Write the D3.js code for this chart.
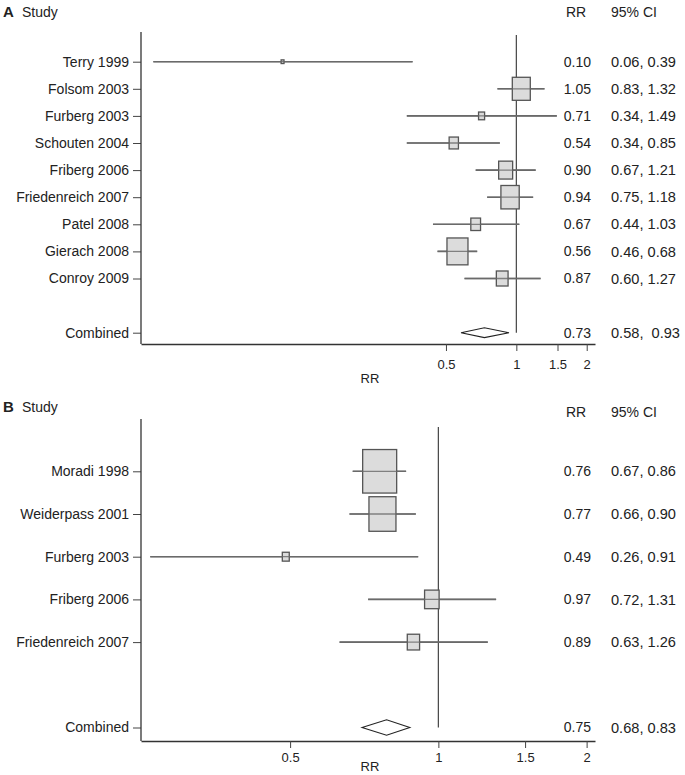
<!DOCTYPE html>
<html><head><meta charset="utf-8">
<script src="https://cdn.jsdelivr.net/npm/d3@7"></script>
<style>
body{margin:0;background:#fff;}
svg text{font-family:"Liberation Sans",Arial,Helvetica,sans-serif;fill:#222;}
</style></head>
<body><svg id="c" width="685" height="775"></svg>
<script>
// ---- Panel A data ----
const studiesA = ["Terry 1999","Folsom 2003","Furberg 2003","Schouten 2004","Friberg 2006","Friedenreich 2007","Patel 2008","Gierach 2008","Conroy 2009"];
const estA = [0.10,1.05,0.71,0.54,0.90,0.94,0.67,0.56,0.87];
const loA  = [0.028,0.83,0.34,0.34,0.67,0.75,0.44,0.46,0.60];
const hiA  = [0.36,1.32,1.49,0.85,1.21,1.18,1.03,0.68,1.27];
const weightA = [0.5,19.5,2.2,5.2,11.8,20.2,5.7,26.6,8.3];
const rrLabelsA = ["0.10","1.05","0.71","0.54","0.90","0.94","0.67","0.56","0.87"];
const ciLabelsA = ["0.06, 0.39","0.83, 1.32","0.34, 1.49","0.34, 0.85","0.67, 1.21","0.75, 1.18","0.44, 1.03","0.46, 0.68","0.60, 1.27"];
const pooledA = [0.73,0.58,0.93];
const pooledLabelsA = ["0.73","0.58,  0.93"];
const domainA = [0.0248,2.17];

// ---- Panel B data ----
const studiesB = ["Moradi 1998","Weiderpass 2001","Furberg 2003","Friberg 2006","Friedenreich 2007"];
const estB = [0.76,0.77,0.49,0.97,0.89];
const loB  = [0.67,0.66,0.26,0.72,0.63];
const hiB  = [0.86,0.90,0.91,1.31,1.26];
const weightB = [50.4,31.8,2.1,9.2,6.6];
const rrLabelsB = ["0.76","0.77","0.49","0.97","0.89"];
const ciLabelsB = ["0.67, 0.86","0.66, 0.90","0.26, 0.91","0.72, 1.31","0.63, 1.26"];
const pooledB = [0.785,0.70,0.875];
const pooledLabelsB = ["0.75","0.68, 0.83"];
const domainB = [0.249,2.08];

const tickVals = [0.5,1,1.5,2];
const tickLabels = ["0.5","1","1.5","2"];

const svg = d3.select("#c");

function panel(o){
  const g = svg.append("g");
  const n = o.studies.length;
  const x = d3.scaleLog().domain(o.domain).range([141,595]);
  const y = d3.scaleLinear().domain([0,n+1]).range([o.y0,o.y0+o.step*(n+1)]);
  const wmax = d3.max(o.weight);
  const s = d3.scaleSqrt().domain([0,wmax]).range([0,o.boxMax]);
  const fs = 14;

  // header
  g.append("text").attr("x",3).attr("y",o.headY).attr("font-size",15).attr("font-weight","bold").text(o.letter);
  g.append("text").attr("x",22).attr("y",o.headY).attr("font-size",fs).text("Study");
  g.append("text").attr("x",566).attr("y",o.headY2).attr("font-size",fs).text("RR");
  g.append("text").attr("x",611).attr("y",o.headY2).attr("font-size",fs).text("95% CI");

  // y axis
  const rowsIdx = d3.range(n).concat([n+1]);
  const labels = o.studies.concat(["Combined"]);
  const ya = g.append("g").attr("transform","translate(141,0)")
    .call(d3.axisLeft(y).tickValues(rowsIdx).tickFormat((d,i)=>labels[i]).tickSize(8).tickPadding(4).tickSizeOuter(0));
  ya.select(".domain").remove();
  ya.selectAll("line").attr("stroke","#444");
  ya.selectAll("text").attr("font-size",fs).attr("font-family","Liberation Sans, Arial, sans-serif").attr("fill","#222");
  g.append("line").attr("x1",141).attr("x2",141).attr("y1",o.axTop).attr("y2",o.axBot).attr("stroke","#333").attr("stroke-width",1.3);

  // x axis
  const xa = g.append("g").attr("transform",`translate(0,${o.axBot})`)
    .call(d3.axisBottom(x).tickValues(tickVals).tickFormat((d,i)=>tickLabels[i]).tickSize(7).tickPadding(o.tickPad).tickSizeOuter(0));
  xa.select(".domain").attr("stroke","#333").attr("stroke-width",1.3);
  xa.selectAll("line").attr("stroke","#444");
  xa.selectAll("text").attr("font-size",13).attr("font-family","Liberation Sans, Arial, sans-serif").attr("fill","#222");
  g.append("text").attr("x",370).attr("y",o.axBot+o.titleOff).attr("text-anchor","middle").attr("font-size",13).text("RR");

  // reference line
  g.append("line").attr("x1",x(1)).attr("x2",x(1)).attr("y1",o.refTop).attr("y2",y(n+1))
    .attr("stroke","#444").attr("stroke-width",1.2);

  // CIs
  const idx = d3.range(n);
  g.selectAll(".ci").data(idx).join("line")
    .attr("x1",i=>x(o.lo[i])).attr("x2",i=>x(o.hi[i])).attr("y1",i=>y(i)).attr("y2",i=>y(i))
    .attr("stroke","#6a6a6a").attr("stroke-width",1.6);
  // boxes
  g.selectAll(".bx").data(idx).join("rect")
    .attr("x",i=>x(o.est[i])-s(o.weight[i])/2)
    .attr("y",i=>y(i)-s(o.weight[i])*1.28/2)
    .attr("width",i=>s(o.weight[i]))
    .attr("height",i=>s(o.weight[i])*1.28)
    .attr("fill","#dcdcdc").attr("stroke","#555").attr("stroke-width",1.3);
  // CI line visible across box
  g.selectAll(".ci2").data(idx).join("line")
    .attr("x1",i=>x(o.lo[i])).attr("x2",i=>x(o.hi[i])).attr("y1",i=>y(i)).attr("y2",i=>y(i))
    .attr("stroke","#6a6a6a").attr("stroke-width",1.3).attr("opacity",0.8);

  // diamond
  const yc = y(n+1), hh = o.step*0.18;
  g.append("path").attr("d",`M${x(o.pooled[1])},${yc}L${x(o.pooled[0])},${yc-hh}L${x(o.pooled[2])},${yc}L${x(o.pooled[0])},${yc+hh}Z`)
    .attr("fill","#fff").attr("stroke","#222").attr("stroke-width",1.1);

  // value columns
  const rr = o.rrLabels.concat([o.pooledLabels[0]]);
  const ci = o.ciLabels.concat([o.pooledLabels[1]]);
  g.selectAll(".rr").data(rowsIdx).join("text")
    .attr("x",591).attr("y",d=>y(d)).attr("dy","0.35em").attr("text-anchor","end").attr("font-size",fs)
    .text((d,i)=>rr[i]);
  g.selectAll(".cit").data(rowsIdx).join("text")
    .attr("x",611).attr("y",d=>y(d)).attr("dy","0.35em").attr("font-size",14.6).style("white-space","pre")
    .text((d,i)=>ci[i]);
}

panel({letter:"A",studies:studiesA,est:estA,lo:loA,hi:hiA,weight:weightA,rrLabels:rrLabelsA,ciLabels:ciLabelsA,
  pooled:pooledA,pooledLabels:pooledLabelsA,domain:domainA,y0:61.7,step:27.1,boxMax:21,
  headY:17,headY2:17,axTop:32,axBot:344,refTop:35,titleOff:39,tickPad:9});
panel({letter:"B",studies:studiesB,est:estB,lo:loB,hi:hiB,weight:weightB,rrLabels:rrLabelsB,ciLabels:ciLabelsB,
  pooled:pooledB,pooledLabels:pooledLabelsB,domain:domainB,y0:471.3,step:42.7,boxMax:34,
  headY:412,headY2:417,axTop:419,axBot:741,refTop:427,titleOff:30,tickPad:5});
</script></body></html>
